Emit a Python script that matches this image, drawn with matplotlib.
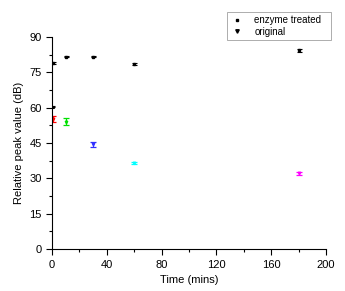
import matplotlib
matplotlib.use("Agg")
import matplotlib.pyplot as plt
from matplotlib.ticker import MultipleLocator
from matplotlib.lines import Line2D

plt.rcParams['font.family'] = ['Liberation Sans', 'DejaVu Sans']

# enzyme treated (black)
t_enz = [0.5, 10, 30, 60, 180]
v_enz = [78.8, 81.7, 81.7, 78.6, 84.3]
e_enz = [0.4, 0.4, 0.4, 0.4, 0.6]
# extra black point near 60
t_extra = [0.8]
v_extra = [60.4]
e_extra = [0.3]

# original (coloured)
t_orig = [0.5, 10, 30, 60, 180]
v_orig = [55.2, 54.1, 44.4, 36.4, 32.1]
e_orig = [1.3, 1.5, 1.1, 0.5, 0.6]
c_orig = ['#ff0000', '#00e000', '#3030ff', '#00ffff', '#ff00ff']

fig = plt.figure(figsize=(3.45, 2.91), dpi=100)
ax = fig.add_axes([0.151, 0.144, 0.794, 0.729])

ax.errorbar(t_enz, v_enz, yerr=e_enz, fmt='s', color='black', ms=1.6,
            elinewidth=0.8, capsize=1.8, capthick=0.8)
ax.errorbar(t_extra, v_extra, yerr=e_extra, fmt='s', color='black', ms=1.2,
            elinewidth=0.8, capsize=1.5, capthick=0.8)
for t, v, e, c in zip(t_orig, v_orig, e_orig, c_orig):
    ax.errorbar([t], [v], yerr=[e], fmt='v', color=c, ms=1.8,
                elinewidth=0.9, capsize=2.2, capthick=0.9)

ax.set_xlim(0, 200)
ax.set_ylim(0, 90)
ax.xaxis.set_major_locator(MultipleLocator(40))
ax.xaxis.set_minor_locator(MultipleLocator(20))
ax.yaxis.set_major_locator(MultipleLocator(15))
ax.yaxis.set_minor_locator(MultipleLocator(7.5))
for s in ['top', 'right']:
    ax.spines[s].set_visible(False)
for s in ['left', 'bottom']:
    ax.spines[s].set_linewidth(0.8)
ax.tick_params(which='major', direction='out', length=4, width=0.8, labelsize=8)
ax.tick_params(which='minor', direction='out', length=2, width=0.8)
ax.set_xlabel('Time (mins)', fontsize=8)
ax.set_ylabel('Relative peak value (dB)', fontsize=8)

handles = [Line2D([], [], marker='s', color='black', ls='none', ms=2),
           Line2D([], [], marker='v', color='black', ls='none', ms=2.5)]
leg = fig.legend(handles, ['enzyme treated', 'original'], loc='upper left',
                 bbox_to_anchor=(227/345, 1 - 38/291, 104/345, 26/291),
                 mode='expand', fontsize=7, frameon=True,
                 fancybox=False, edgecolor='#888888', borderpad=0.3,
                 labelspacing=0.2, handletextpad=1.0, handlelength=1.5,
                 borderaxespad=0)
leg.get_frame().set_linewidth(0.6)

fig.savefig('out.png', dpi=100)
